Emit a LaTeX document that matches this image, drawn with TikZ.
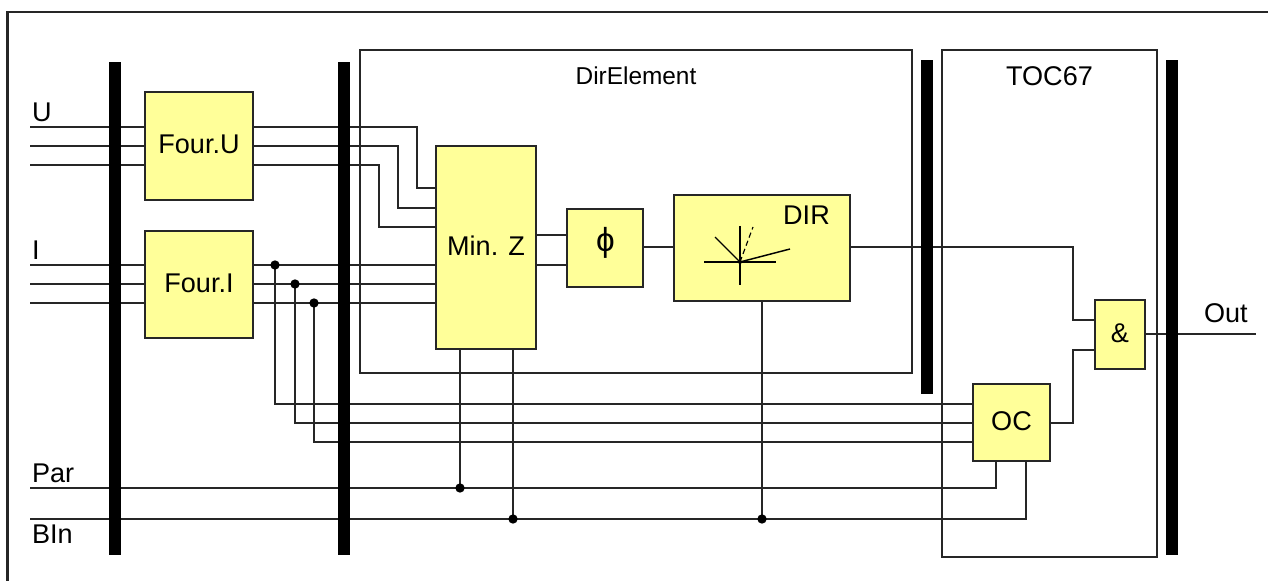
\documentclass[tikz,border=0pt]{standalone}
\usepackage{fontspec}
\setmainfont{Liberation Sans}
\usetikzlibrary{calc}
\definecolor{boxfill}{HTML}{FFFF99}
\definecolor{wirecol}{HTML}{262626}
\tikzset{
  wire/.style={draw=wirecol,line width=1.05pt},
  fblock/.style 2 args={draw=wirecol,fill=boxfill,line width=1.05pt,inner sep=0pt,outer sep=0pt,minimum width=#1*0.75pt,minimum height=#2*0.75pt,font=\fontsize{20}{24}\selectfont},
  frameblock/.style 2 args={draw=wirecol,line width=1.1pt,inner sep=0pt,outer sep=0pt,minimum width=#1*0.75pt,minimum height=#2*0.75pt},
  busbar/.style 2 args={fill=black,inner sep=0pt,outer sep=0pt,minimum width=#1*0.75pt,minimum height=#2*0.75pt},
  lbl/.style={inner sep=0pt,outer sep=0pt,anchor=base west,font=\fontsize{20.3}{24}\selectfont},
  lblc/.style={inner sep=0pt,outer sep=0pt,anchor=base,font=\fontsize{20.3}{24}\selectfont},
  jdot/.style={circle,fill=black,inner sep=0pt,minimum size=7pt,outer sep=0pt},
  star/.style={line width=0.85pt,draw=black}
}
\begin{document}
\begin{tikzpicture}[x=0.75pt,y=-0.75pt]
\useasboundingbox (0,0) rectangle (1268,581);
% outer border
\coordinate (bTR) at (1268,12);
\coordinate (bTL) at (7.5,12);
\coordinate (bBL) at (7.5,581);
\draw[draw=wirecol,line width=1.6pt] (bTR) -- (bTL) -- (bBL);
% frames
\node[frameblock={552}{323}] (dirframe) at (636,211.5) {};
\node[frameblock={215}{507}] (tocframe) at (1049.5,303.5) {};
% free ends
\coordinate (u1) at (30,127);
\coordinate (u2) at (30,146);
\coordinate (u3) at (30,165);
\coordinate (i1) at (30,265);
\coordinate (i2) at (30,284);
\coordinate (i3) at (30,303);
\coordinate (par) at (30,488);
\coordinate (bin) at (30,519);
\coordinate (out) at (1256,334);
% blocks
\node[fblock={108}{108}] (fu) at (199,146) {};
\node[fblock={108}{107}] (fi) at (199,284.5) {};
\node[fblock={100}{203}] (mz) at (486,247.5) {};
\node[fblock={76}{78}] (ph) at (605,248) {};
\node[fblock={176}{106}] (dr) at (762,248) {};
\node[fblock={77}{77}] (oc) at (1011.5,422.5) {};
\node[fblock={50}{69}] (an) at (1120,334.5) {};
% wires
\draw[wire] (u1) -- (u1 -| fu.west);
\draw[wire] (u2) -- (u2 -| fu.west);
\draw[wire] (u3) -- (u3 -| fu.west);
\draw[wire] (i1) -- (i1 -| fi.west);
\draw[wire] (i2) -- (i2 -| fi.west);
\draw[wire] (i3) -- (i3 -| fi.west);
\draw[wire] (u1 -| fu.east) -- (417,127) -- (417,188) -- (436,188 -| mz.west);
\draw[wire] (u2 -| fu.east) -- (398,146) -- (398,208) -- (436,208 -| mz.west);
\draw[wire] (u3 -| fu.east) -- (379,165) -- (379,227) -- (436,227 -| mz.west);
\draw[wire] (i1 -| fi.east) -- (i1 -| mz.west);
\draw[wire] (i2 -| fi.east) -- (i2 -| mz.west);
\draw[wire] (i3 -| fi.east) -- (i3 -| mz.west);
\coordinate (j1) at (275,265);
\coordinate (j2) at (295,284);
\coordinate (j3) at (314,303);
\draw[wire] (j1) -- (275,404) -- (oc.west |- 0,404);
\draw[wire] (j2) -- (295,423) -- (oc.west |- 0,423);
\draw[wire] (j3) -- (314,442) -- (oc.west |- 0,442);
\draw[wire] (par) -- (996,488) -- (996,0 |- oc.south);
\draw[wire] (bin) -- (1026,519) -- (1026,0 |- oc.south);
\coordinate (j4) at (460,488);
\coordinate (j5) at (513,519);
\coordinate (j6) at (762,519);
\draw[wire] (460,0 |- mz.south) -- (j4);
\draw[wire] (513,0 |- mz.south) -- (j5);
\draw[wire] (dr.south) -- (j6);
\draw[wire] (mz.east |- 0,235) -- (ph.west |- 0,235);
\draw[wire] (mz.east |- 0,265) -- (ph.west |- 0,265);
\draw[wire] (ph.east |- 0,247) -- (dr.west |- 0,247);
\draw[wire] (dr.east |- 0,247) -- (1073,247) -- (1073,320) -- (an.west |- 0,320);
\draw[wire] (oc.east |- 0,423) -- (1073,423) -- (1073,350) -- (an.west |- 0,350);
\draw[wire] (an.east |- out) -- (out);
% dots
\foreach \p in {j1,j2,j3,j4,j5,j6} \node[jdot] at (\p) {};
% bus bars
\node[busbar={12}{493}] (b1) at (115,308.5) {};
\node[busbar={12}{493}] (b2) at (344,308.5) {};
\node[busbar={12}{334}] (b3) at (927,227) {};
\node[busbar={12}{495}] (b4) at (1172,307.5) {};
% labels
\node[lbl] (tu) at (32,122) {U};
\node[lbl] (ti) at (32,260) {I};
\node[lbl] (tp) at (32,482) {Par};
\node[lbl] (tb) at (32,543) {BIn};
\node[lbl] (to) at (1204,322) {Out};
\node[lblc,font=\fontsize{18.3}{22}\selectfont] (td) at (636,85) {DirElement};
\node[lblc] (tt) at (1049.5,86) {TOC67};
\node[lblc] (tfu) at (199,154) {Four.U};
\node[lblc] (tfi) at (199,292) {Four.I};
\node[lblc] (tmz) at (486,256) {Min. Z};
\node[lblc,font=\fontsize{25}{28}\selectfont] (tph) at (605.5,252) {ϕ};
\node[lblc] (tdr) at (806.5,225) {DIR};
\node[lblc] (toc) at (1011.5,430) {OC};
\node[lblc] (tan) at (1120,342) {\&};
% direction star
\coordinate (c) at (740,262);
\draw[star] (740,226) -- (740,285);
\draw[star] (704,262) -- (776,262);
\draw[star] (715,237) -- (c);
\draw[star,line width=1.1pt] (c) -- (790,249);
\draw[star,dash pattern=on 4pt off 2.5pt] (c) -- (753,227);
\fill (c) circle (1.5pt);
\end{tikzpicture}
\end{document}
